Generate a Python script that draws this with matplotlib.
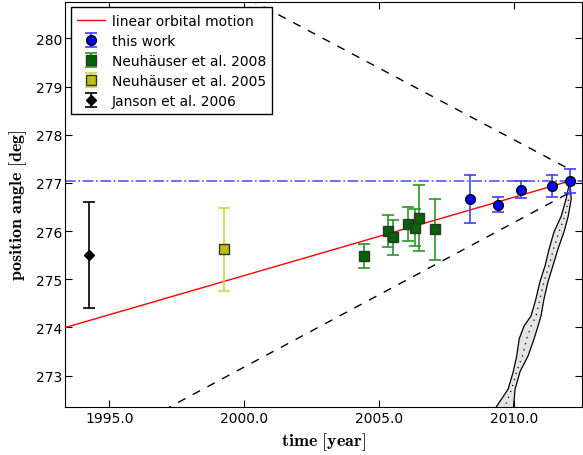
import matplotlib
matplotlib.use("Agg")
import matplotlib.pyplot as plt
from matplotlib.ticker import FormatStrFormatter

plt.rcParams["mathtext.fontset"] = "cm"
plt.rcParams["font.family"] = "DejaVu Sans"

# this work
tw_t = [2008.37, 2009.40, 2010.25, 2011.40, 2012.07]
tw_pa = [276.67, 276.55, 276.86, 276.94, 277.04]
tw_err = [0.50, 0.16, 0.17, 0.23, 0.24]

# Neuhaeuser et al. 2008
n08_t = [2004.42, 2005.34, 2005.53, 2006.07, 2006.32, 2006.47, 2007.06]
n08_pa = [275.49, 276.01, 275.87, 276.14, 276.07, 276.27, 276.04]
n08_err = [0.25, 0.33, 0.37, 0.35, 0.38, 0.68, 0.63]

# Neuhaeuser et al. 2005
n05_t = [1999.25]
n05_pa = [275.62]
n05_err = [0.86]

# Janson et al. 2006
j06_t = [1994.25]
j06_pa = [275.50]
j06_err = [1.10]

# linear orbital motion fit
fit_t = [1993.0, 2012.07]
fit_pa = [273.94, 277.04]

# maximum orbital motion cone
cone_up_t = [1997.0, 2012.07]
cone_up_pa = [281.76, 277.28]
cone_lo_t = [1997.0, 2012.07]
cone_lo_pa = [272.28, 276.80]

# background-object prediction band (PA, time left edge, time right edge)
bg_pa = [277.04, 276.67, 276.31, 275.98, 275.63, 275.28, 274.95, 274.59,
         274.24, 274.03, 273.76, 273.41, 273.08, 272.72, 272.35, 272.20]
bg_t_lo = [2012.07, 2011.93, 2011.75, 2011.48, 2011.30, 2011.15, 2010.96, 2010.81,
           2010.63, 2010.37, 2010.19, 2010.10, 2009.97, 2009.78, 2009.34, 2009.15]
bg_t_hi = [2012.07, 2012.12, 2012.01, 2011.85, 2011.63, 2011.44, 2011.26, 2011.11,
           2011.00, 2010.89, 2010.74, 2010.52, 2010.22, 2010.04, 2009.98, 2009.95]

fig = plt.figure(figsize=(5.83, 4.56), dpi=100)
ax = fig.add_axes([0.1122, 0.1053, 0.8861, 0.8887])

ax.fill_betweenx(bg_pa, bg_t_lo, bg_t_hi, facecolor="#e4e4e4", edgecolor="none", zorder=1)
ax.plot(bg_t_lo, bg_pa, color="black", lw=0.9, zorder=2)
ax.plot(bg_t_hi, bg_pa, color="black", lw=0.9, zorder=2)
bg_mid = [(a + b) / 2 for a, b in zip(bg_t_lo, bg_t_hi)]
ax.plot(bg_mid, bg_pa, color="black", lw=0.9, ls=(0, (1, 4)), zorder=2)

ax.plot(cone_up_t, cone_up_pa, color="black", ls="--", lw=1, dashes=(6, 6), zorder=2)
ax.plot(cone_lo_t, cone_lo_pa, color="black", ls="--", lw=1, dashes=(6, 6), zorder=2)
ax.axhline(tw_pa[-1], color="#5555ff", ls="-.", lw=1.2, zorder=2)

fit_line, = ax.plot(fit_t, fit_pa, color="red", lw=1, zorder=3, label="linear orbital motion")

h_tw = ax.errorbar(tw_t, tw_pa, yerr=tw_err, fmt="o", color="blue", mfc="blue", mec="black",
                   ms=7, ecolor="#3f3fff", elinewidth=1.2, capsize=4, capthick=1.2, zorder=5,
                   label="this work")
h_n08 = ax.errorbar(n08_t, n08_pa, yerr=n08_err, fmt="s", mfc="#006400", mec="#333333",
                    ms=6.5, ecolor="#2a962a", elinewidth=1.2, capsize=4, capthick=1.2, zorder=4,
                    label="Neuhäuser et al. 2008")
h_n05 = ax.errorbar(n05_t, n05_pa, yerr=n05_err, fmt="s", mfc="#bfbf00", mec="#333333",
                    ms=6.5, ecolor="#d4d43a", elinewidth=1.2, capsize=4, capthick=1.2, zorder=4,
                    label="Neuhäuser et al. 2005")
h_j06 = ax.errorbar(j06_t, j06_pa, yerr=j06_err, fmt="D", color="black", mfc="black", mec="black",
                    ms=5, ecolor="black", elinewidth=1.2, capsize=4, capthick=1.2, zorder=4,
                    label="Janson et al. 2006")

ax.set_xlim(1993.37, 2012.52)
ax.set_ylim(272.35, 280.76)
ax.set_xticks([1995, 2000, 2005, 2010])
ax.set_yticks(range(273, 281))
ax.xaxis.set_major_formatter(FormatStrFormatter("%.1f"))
ax.tick_params(direction="in", top=True, right=True, length=5, labelsize=10)
ax.tick_params(axis="x", pad=3)
ax.tick_params(axis="y", pad=2)

ax.set_xlabel(r"$\mathbf{time}\ [\mathbf{year}]$", fontsize=13, labelpad=4)
ax.set_ylabel(r"$\mathbf{position\ angle}\ [\mathbf{deg}]$", fontsize=13, labelpad=5)

leg = ax.legend(handles=[fit_line, h_tw, h_n08, h_n05, h_j06], loc="upper left",
                fontsize=10, fancybox=False, framealpha=1, edgecolor="black",
                borderaxespad=0.4, handlelength=2.0, handletextpad=0.5,
                labelspacing=0.44, borderpad=0.45)
leg.get_frame().set_linewidth(1)

fig.savefig("out.png", dpi=100)
